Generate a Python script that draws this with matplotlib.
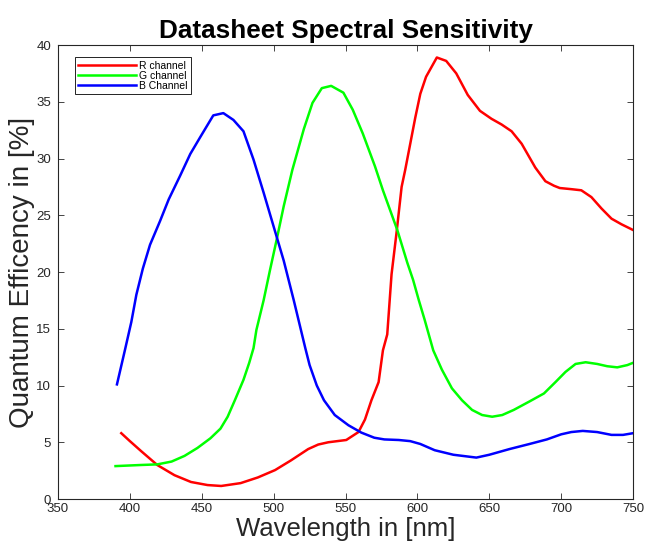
import numpy as np
import matplotlib
matplotlib.use("Agg")
import matplotlib.pyplot as plt

plt.rcParams["font.family"] = ["Liberation Sans", "DejaVu Sans"]

# values (wavelength nm, QE %)
red_wl = [394, 400, 408, 419, 431, 442.5, 454, 463.5, 477, 489, 501, 512, 524, 531,
          538, 550.5, 559, 563.5, 568, 573, 576, 579, 582, 585.5, 589, 591.5, 595,
          598.5, 602, 606, 613.5, 620, 627, 635, 643.5, 651.5, 658.5, 665.5, 672.5,
          682, 689, 695, 699, 707, 714, 721, 728, 735, 742, 750]
red_qe = [5.8, 5.1, 4.2, 3.0, 2.1, 1.5, 1.23, 1.15, 1.4, 1.9, 2.55, 3.4, 4.4, 4.8,
          5.0, 5.2, 5.9, 7.0, 8.7, 10.3, 13.1, 14.5, 19.8, 23.5, 27.5, 29.0, 31.3,
          33.6, 35.7, 37.2, 38.9, 38.6, 37.5, 35.6, 34.2, 33.5, 33.0, 32.4, 31.3,
          29.2, 28.0, 27.6, 27.4, 27.3, 27.2, 26.6, 25.6, 24.7, 24.2, 23.7]

green_wl = [390, 408, 419, 429, 438, 447, 456, 463, 468, 473, 479, 483, 486, 488, 493,
            497.5, 502, 507, 513, 521, 527, 533.5, 540, 548.5, 555, 562, 570.5, 576,
            586, 593, 597, 601, 605, 611, 617, 624, 631, 638, 645, 652, 659, 667, 678,
            688, 696, 703, 710, 717, 725, 732, 739, 746, 750]
green_qe = [2.9, 3.0, 3.05, 3.3, 3.8, 4.5, 5.35, 6.2, 7.25, 8.7, 10.5, 12.0, 13.3, 14.9,
            17.5, 20.2, 22.8, 25.8, 29.0, 32.6, 34.9, 36.2, 36.4, 35.8, 34.3, 32.2, 29.3,
            27.2, 23.7, 20.8, 19.3, 17.5, 15.8, 13.1, 11.4, 9.75, 8.7, 7.85, 7.4, 7.25,
            7.4, 7.85, 8.6, 9.3, 10.3, 11.2, 11.9, 12.05, 11.9, 11.7, 11.6, 11.8, 12.0]

blue_wl = [391, 396.5, 401, 404.5, 409, 414, 421, 427, 435, 442, 449, 458, 465, 472,
           479, 486, 493, 500, 507, 514, 522, 525, 530, 535, 542.5, 552, 561, 570, 577,
           587, 595, 602, 612, 625, 641, 650, 664, 678, 690, 700, 707, 715, 725, 735,
           743, 750]
blue_qe = [10.1, 13.1, 15.6, 18.0, 20.3, 22.4, 24.5, 26.4, 28.5, 30.4, 31.9, 33.8, 34.0,
           33.4, 32.4, 29.9, 27.0, 24.0, 21.0, 17.5, 13.3, 11.8, 10.0, 8.7, 7.4, 6.5,
           5.85, 5.4, 5.25, 5.2, 5.1, 4.85, 4.3, 3.9, 3.65, 3.9, 4.4, 4.85, 5.25, 5.7,
           5.9, 6.0, 5.9, 5.65, 5.65, 5.8]

x_ticks = np.arange(350, 751, 50)
y_ticks = np.arange(0, 41, 5)

fig = plt.figure(figsize=(6.46, 5.41), dpi=100)
ax = fig.add_axes([0.0898, 0.0776, 0.8902, 0.8392])

ax.plot(red_wl, red_qe, color=(1, 0, 0), lw=1.8, label="R channel")
ax.plot(green_wl, green_qe, color=(0, 1, 0), lw=1.8, label="G channel")
ax.plot(blue_wl, blue_qe, color=(0, 0, 1), lw=1.8, label="B Channel")

ax.set_xlim(350, 750)
ax.set_ylim(0, 40)
ax.set_xticks(x_ticks)
ax.set_yticks(y_ticks)
ax.tick_params(direction="in", top=True, right=True, labelsize=9.5, length=4,
               width=0.6, colors="#262626", pad=3)
ax.tick_params(axis="y", pad=5)
for sp in ax.spines.values():
    sp.set_linewidth(0.8)
    sp.set_color("#262626")

ax.set_title("Datasheet Spectral Sensitivity", fontsize=18.8, fontweight="bold", pad=5)
ax.set_xlabel("Wavelength in [nm]", fontsize=18.5, labelpad=1, color="#262626")
ax.set_ylabel("Quantum Efficency in [%]", fontsize=20, labelpad=1, color="#262626")

leg = ax.legend(loc="upper left", fontsize=7.5, handlelength=5.5, handletextpad=0.3,
                labelspacing=0.0, borderpad=0.35, fancybox=False, framealpha=1,
                bbox_to_anchor=(0.02, 0.985))
leg.get_frame().set_edgecolor("black")
leg.get_frame().set_linewidth(0.6)

fig.savefig("out.png", dpi=100)
